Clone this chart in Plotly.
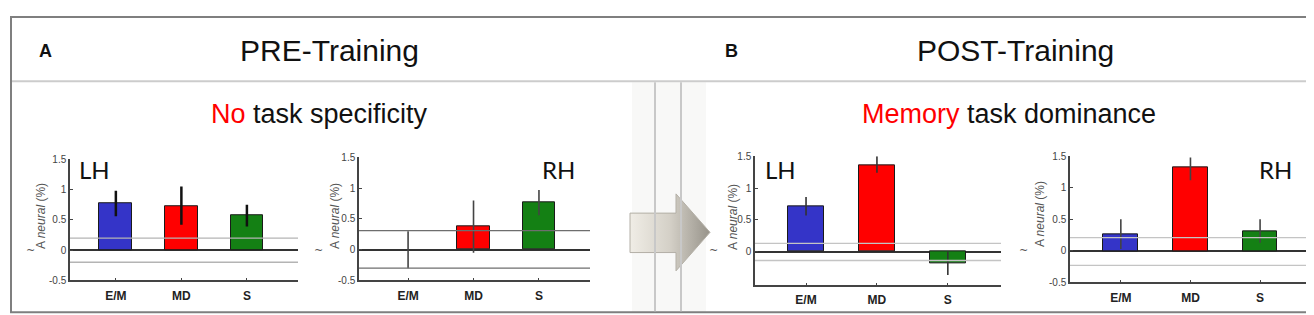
import plotly.graph_objects as go

W, H = 1314, 315

# ---------------- data ----------------
categories = ["E/M", "MD", "S"]

pre_lh_vals = [0.77, 0.73, 0.57]
pre_lh_low = [0.56, 0.42, 0.39]
pre_lh_high = [0.98, 1.05, 0.75]
pre_lh_thr = [-0.20, 0.20]

pre_rh_vals = [0.0, 0.38, 0.77]
pre_rh_low = [-0.30, -0.05, 0.56]
pre_rh_high = [0.30, 0.80, 0.97]
pre_rh_thr = [-0.30, 0.31]

post_lh_vals = [0.72, 1.36, -0.18]
post_lh_low = [0.57, 1.24, -0.37]
post_lh_high = [0.86, 1.50, 0.00]
post_lh_thr = [-0.14, 0.13]

post_rh_vals = [0.27, 1.33, 0.31]
post_rh_low = [0.03, 1.12, 0.13]
post_rh_high = [0.50, 1.48, 0.50]
post_rh_thr = [-0.23, 0.21]

y_ticks_full = [-0.5, 0, 0.5, 1, 1.5]
y_ticks_full_text = ["-0.5", "0", "0.5", "1", "1.5"]
y_ticks_short = [0, 0.5, 1, 1.5]
y_ticks_short_text = ["0", "0.5", "1", "1.5"]

bar_colors = ["#3434c8", "#ff0000", "#148014"]

# ---------------- helpers ----------------
def px_x(p):
    return p / W


def px_y(p):
    return 1 - p / H


FONT = "Liberation Sans, Arial, sans-serif"

panels = [
    dict(vals=pre_lh_vals, low=pre_lh_low, high=pre_lh_high, thr=pre_lh_thr,
         xdom=(62, 290), ydom=(151, 277), xr=[0.30, 3.78], yr=[-0.5, 1.5],
         ticks=(y_ticks_full, y_ticks_full_text), thr_color="#b4b4b4",
         err_color="#111111", err_w=2.5, hemi="LH", hemi_x=86,
         lab_x=33, lab_y=210, tilde_x=22),
    dict(vals=pre_rh_vals, low=pre_rh_low, high=pre_rh_high, thr=pre_rh_thr,
         xdom=(351, 582), ydom=(149, 277), xr=[0.25, 3.78], yr=[-0.5, 1.5],
         ticks=(y_ticks_full, y_ticks_full_text), thr_color="#6e6e6e",
         err_color="#444444", err_w=1.6, hemi="RH", hemi_x=550,
         lab_x=327, lab_y=210, tilde_x=310),
    dict(vals=post_lh_vals, low=post_lh_low, high=post_lh_high, thr=post_lh_thr,
         xdom=(747, 993), ydom=(148, 282), xr=[0.28, 3.75], yr=[-0.53, 1.5],
         ticks=(y_ticks_short, y_ticks_short_text), thr_color="#c4c4c4",
         err_color="#333333", err_w=1.6, hemi="LH", hemi_x=772,
         lab_x=725, lab_y=211, tilde_x=705),
    dict(vals=post_rh_vals, low=post_rh_low, high=post_rh_high, thr=post_rh_thr,
         xdom=(1062, 1305), ydom=(148, 279), xr=[0.27, 3.76], yr=[-0.5, 1.5],
         ticks=(y_ticks_full, y_ticks_full_text), thr_color="#c4c4c4",
         err_color="#444444", err_w=1.6, hemi="RH", hemi_x=1267,
         lab_x=1032, lab_y=208, tilde_x=1015),
]

fig = go.Figure()
shapes = []
annotations = []
layout_axes = {}

xpos = [1, 2, 3]

for i, p in enumerate(panels):
    n = i + 1
    xa = "x" if n == 1 else f"x{n}"
    ya = "y" if n == 1 else f"y{n}"
    xkey = "xaxis" if n == 1 else f"xaxis{n}"
    ykey = "yaxis" if n == 1 else f"yaxis{n}"

    err_plus = [h - v for h, v in zip(p["high"], p["vals"])]
    err_minus = [v - l for v, l in zip(p["vals"], p["low"])]
    outline_w = [0 if v == 0 else 1 for v in p["vals"]]

    fig.add_trace(go.Bar(
        x=xpos, y=p["vals"], width=0.5,
        marker=dict(color=bar_colors, line=dict(color="#1a1a1a", width=outline_w)),
        error_y=dict(type="data", array=err_plus, arrayminus=err_minus,
                     symmetric=False, color=p["err_color"],
                     thickness=p["err_w"], width=0),
        xaxis=xa, yaxis=ya, showlegend=False, hoverinfo="skip",
    ))

    layout_axes[xkey] = dict(
        domain=[px_x(p["xdom"][0]), px_x(p["xdom"][1])],
        range=p["xr"], anchor=ya, showgrid=False, zeroline=False,
        showline=True, linecolor="#444444", linewidth=1.5,
        ticks="inside", ticklen=3, tickwidth=1, tickcolor="#444444",
        tickvals=xpos, ticktext=categories,
        tickfont=dict(family=FONT, size=12, color="#222222", weight="bold"),
        ticklabelstandoff=3, fixedrange=True,
    )
    layout_axes[ykey] = dict(
        domain=[px_y(p["ydom"][1]), px_y(p["ydom"][0])],
        range=p["yr"], anchor=xa, showgrid=False,
        zeroline=True, zerolinecolor="#333333", zerolinewidth=1.5,
        showline=True, linecolor="#444444", linewidth=1.5,
        ticks="inside", ticklen=3, tickwidth=1, tickcolor="#444444",
        tickvals=p["ticks"][0], ticktext=p["ticks"][1],
        tickfont=dict(family=FONT, size=10, color="#444444"),
        fixedrange=True,
    )

    # threshold lines
    for t in p["thr"]:
        shapes.append(dict(type="line", xref=f"{xa} domain", yref=ya,
                           x0=0, x1=1, y0=t, y1=t, layer="above",
                           line=dict(color=p["thr_color"], width=1.3)))

    # hemisphere label
    annotations.append(dict(x=px_x(p["hemi_x"]), y=px_y(162), xref="paper", yref="paper",
                            text=p["hemi"], showarrow=False, xanchor="center", yanchor="middle",
                            font=dict(family="Lato, Carlito, sans-serif", size=24, color="#111111")))
    # y-axis label
    annotations.append(dict(x=px_x(p["lab_x"]), y=px_y(p["lab_y"]), xref="paper", yref="paper",
                            text="A <i>neural</i> (%)", textangle=-90, showarrow=False,
                            xanchor="center", yanchor="middle",
                            font=dict(family=FONT, size=12, color="#555555")))
    annotations.append(dict(x=px_x(p["tilde_x"]), y=px_y(246), xref="paper", yref="paper",
                            text="~", showarrow=False, xanchor="center", yanchor="middle",
                            font=dict(family="DejaVu Sans, sans-serif", size=11, color="#555555")))

# ---------------- decorations (frame, header, arrow) ----------------
shapes.append(dict(type="rect", xref="paper", yref="paper", layer="below",
                   x0=px_x(624), x1=px_x(698), y0=px_y(310), y1=px_y(71),
                   fillcolor="#f8f8f7", line=dict(width=0)))
shapes.append(dict(type="rect", xref="paper", yref="paper",
                   x0=px_x(3), x1=px_x(1310), y0=px_y(310), y1=px_y(3),
                   line=dict(color="#7f7f7f", width=2)))
shapes.append(dict(type="line", xref="paper", yref="paper",
                   x0=px_x(4), x1=px_x(1309), y0=px_y(70), y1=px_y(70),
                   line=dict(color="#cccccc", width=2)))
for vx in (647, 673):
    shapes.append(dict(type="line", xref="paper", yref="paper",
                       x0=px_x(vx), x1=px_x(vx), y0=px_y(71), y1=px_y(309),
                       line=dict(color="#c8c8c8", width=2)))

# arrow on a full-figure pixel overlay axis
arrow_x = [622, 668, 668, 702, 668, 668, 622, 622]
arrow_y = [207, 207, 187, 227, 267, 248, 248, 207]
fig.add_trace(go.Scatter(
    x=arrow_x, y=arrow_y, mode="lines", fill="toself",
    fillgradient=dict(type="horizontal",
                      colorscale=[[0, "#f0ede6"], [0.5, "#d4d0c7"], [1, "#97938a"]]),
    line=dict(color="#b3afa6", width=1),
    xaxis="x5", yaxis="y5", showlegend=False, hoverinfo="skip",
))
layout_axes["xaxis5"] = dict(domain=[0, 1], range=[0, W], visible=False, anchor="y5", fixedrange=True)
layout_axes["yaxis5"] = dict(domain=[0, 1], range=[H, 0], visible=False, anchor="x5", fixedrange=True)

# header text
hdr = [
    ("<b>A</b>", 37, 38, 18),
    ("PRE-Training", 321, 38, 30),
    ("<b>B</b>", 723, 38, 18),
    ("POST-Training", 1007, 38, 30),
    ("<span style='color:#ff0000'>No</span> task specificity", 311, 104, 27),
    ("<span style='color:#ff0000'>Memory</span> task dominance", 1001, 104, 27),
]
for txt, x, y, s in hdr:
    annotations.append(dict(x=px_x(x), y=px_y(y), xref="paper", yref="paper", text=txt,
                            showarrow=False, xanchor="center", yanchor="middle",
                            font=dict(family=FONT, size=s, color="#111111")))

fig.update_layout(
    width=W, height=H,
    margin=dict(l=0, r=0, t=0, b=0),
    paper_bgcolor="white", plot_bgcolor="rgba(0,0,0,0)",
    bargap=0, shapes=shapes, annotations=annotations,
    **layout_axes,
)

fig.write_html("out.html", config={"displayModeBar": False})
